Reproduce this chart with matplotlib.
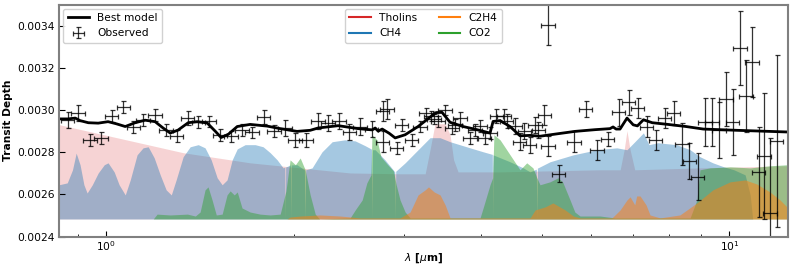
import numpy as np
import matplotlib
matplotlib.use("Agg")
import matplotlib.pyplot as plt
from matplotlib.lines import Line2D
from matplotlib.ticker import MultipleLocator, FormatStrFormatter

# ---------------- data (wavelength in micron, depth in ppm) ----------------
base_ppm = 2484

tholins_wl = [0.840, 1.329, 1.702, 2.048, 2.463, 2.962, 3.25, 3.309, 3.37, 3.50, 3.563, 3.61, 3.67,
              4.286, 6.2, 6.68, 6.78, 6.85, 6.93, 7.05, 8.97, 12.42]
tholins_ppm = [2931, 2798, 2750, 2726, 2702, 2698, 2698, 2812, 2935, 2935, 2883, 2764, 2707,
               2707, 2717, 2717, 2812, 2902, 2812, 2717, 2726, 2736]

ch4_wl = [0.840, 0.866, 0.883, 0.895, 0.908, 0.921, 0.932, 0.950, 0.971, 0.993, 1.007, 1.030, 1.049,
          1.073, 1.093, 1.121, 1.146, 1.168, 1.194, 1.221, 1.248, 1.272, 1.295, 1.329, 1.364, 1.405,
          1.441, 1.474, 1.507, 1.535, 1.563, 1.593, 1.623, 1.671, 1.734, 1.786, 1.833, 1.881, 1.923,
          1.935, 1.938, 1.941, 1.975, 1.978, 1.981, 2.024, 2.080, 2.085, 2.090, 2.140, 2.220, 2.305,
          2.417, 2.509, 2.604, 2.665, 2.670, 2.675, 2.701, 2.802, 2.905, 2.910, 2.915, 3.018, 3.166,
          3.309, 3.434, 3.563, 3.836, 4.03, 4.165, 4.17, 4.175, 4.447, 4.67, 4.788, 4.90, 4.91, 4.92,
          4.968, 5.155, 5.62, 6.13, 6.6, 6.85, 7.1, 7.28, 7.43, 7.68, 8.23, 8.65, 8.97, 9.41, 9.8,
          10.17, 10.6, 10.8, 10.9, 12.42]
ch4_ppm = [2646, 2655, 2717, 2796, 2741, 2646, 2607, 2646, 2702, 2741, 2750, 2707, 2646,
           2598, 2669, 2788, 2821, 2826, 2774, 2693, 2622, 2598, 2669, 2779, 2826, 2836,
           2821, 2764, 2679, 2646, 2669, 2764, 2816, 2836, 2836, 2826, 2798, 2764, 2726,
           2730, 2484, 2730, 2740, 2484, 2740, 2741, 2717, 2484, 2717, 2726, 2802, 2850,
           2859, 2854, 2831, 2815, 2484, 2812, 2812, 2764, 2707, 2484, 2710, 2750, 2812,
           2869, 2869, 2850, 2821, 2802, 2790, 2484, 2788, 2755, 2726, 2707, 2720, 2484, 2725,
           2731, 2755, 2788, 2812, 2821, 2812, 2859, 2892, 2836, 2845, 2836, 2812, 2779, 2750, 2731,
           2717, 2693, 2598, 2484, 2484]

c2h4_wl = [0.840, 1.95, 1.973, 2.048, 2.205, 2.374, 2.556, 2.962, 3.074, 3.166, 3.25, 3.29, 3.36,
           3.434, 3.50, 3.563, 4.788, 4.88, 5.06, 5.21, 5.45, 5.62, 5.76, 6.48, 6.68, 6.85, 6.93,
           7.05, 7.1, 7.19, 7.35, 7.46, 7.74, 8.33, 8.87, 9.41, 10.03, 10.6, 11.06, 11.62, 12.06, 12.42]
c2h4_ppm = [2484, 2484, 2493, 2498, 2503, 2498, 2489, 2489, 2517, 2598, 2622, 2636, 2612,
            2598, 2550, 2489, 2489, 2527, 2541, 2560, 2527, 2498, 2489, 2489, 2527, 2574, 2589,
            2551, 2593, 2593, 2551, 2503, 2489, 2503, 2560, 2622, 2660, 2669, 2650, 2612, 2574, 2536]

co2_wl = [0.840, 1.19, 1.207, 1.267, 1.35, 1.39, 1.415, 1.441, 1.457, 1.479, 1.502, 1.535, 1.563,
          1.581, 1.605, 1.623, 1.652, 1.702, 1.766, 1.833, 1.902, 1.943, 1.973, 2.012, 2.048, 2.086,
          2.125, 2.165, 2.20, 2.463, 2.51, 2.575, 2.62, 2.66, 2.67, 2.72, 2.76, 2.83, 2.89, 2.92,
          2.962, 3.018, 3.074, 3.981, 4.04, 4.13, 4.17, 4.19, 4.286, 4.447, 4.614, 4.73, 4.84, 4.91,
          4.968, 5.155, 5.31, 5.40, 5.551, 5.65, 5.76, 6.2, 6.55, 8.65, 8.87, 8.97, 9.31, 10.03,
          10.8, 11.62, 12.42]
co2_ppm = [2484, 2484, 2507, 2503, 2507, 2498, 2517, 2622, 2636, 2574, 2503, 2507, 2598,
           2617, 2598, 2612, 2536, 2517, 2507, 2503, 2507, 2617, 2764, 2741, 2773, 2717,
           2598, 2507, 2484, 2489, 2527, 2574, 2655, 2693, 2883, 2859, 2779, 2741, 2712, 2646,
           2574, 2517, 2489, 2489, 2551, 2646, 2679, 2883, 2859, 2788, 2717, 2750, 2726, 2679,
           2646, 2660, 2679, 2660, 2574, 2517, 2498, 2498, 2489, 2489, 2574, 2717, 2726, 2731,
           2726, 2736, 2741]

model_wl = [0.840, 0.869, 0.892, 0.908, 0.936, 0.971, 1.007, 1.038, 1.073, 1.113, 1.155, 1.198, 1.234,
            1.267, 1.304, 1.354, 1.400, 1.452, 1.496, 1.529, 1.570, 1.623, 1.702, 1.813, 1.902, 2.024,
            2.125, 2.188, 2.357, 2.537, 2.672, 2.702, 2.732, 2.773, 2.845, 2.909, 3.018, 3.166, 3.321,
            3.383, 3.459, 3.563, 3.739, 3.937, 4.130, 4.177, 4.286, 4.447, 4.614, 4.788, 4.968, 5.252,
            5.655, 6.084, 6.434, 6.507, 6.580, 6.677, 6.852, 7.010, 7.12, 7.28, 7.52, 7.97, 8.52, 9.08,
            10.29, 12.42]
model_ppm = [2958, 2958, 2962, 2950, 2940, 2938, 2945, 2935, 2922, 2940, 2952, 2945, 2915,
             2891, 2905, 2940, 2945, 2939, 2900, 2870, 2885, 2922, 2932, 2924, 2912, 2899,
             2904, 2915, 2926, 2912, 2906, 2915, 2900, 2910, 2890, 2868, 2883, 2922, 2970,
             2988, 2989, 2942, 2922, 2907, 2891, 2946, 2950, 2922, 2878, 2880, 2876, 2886,
             2899, 2907, 2912, 2920, 2910, 2910, 2962, 2930, 2925, 2954, 2940, 2932, 2922, 2910,
             2904, 2896]

obs_wl = [0.867, 0.902, 0.943, 0.981, 1.021, 1.066, 1.106, 1.145, 1.199, 1.248, 1.298, 1.351, 1.406,
          1.464, 1.524, 1.587, 1.651, 1.713, 1.789, 1.860, 1.937, 2.009, 2.094, 2.187, 2.269, 2.366,
          2.457, 2.556, 2.668, 2.777, 2.777, 2.822, 2.926, 2.980, 3.093, 3.189, 3.26, 3.32, 3.36,
          3.41, 3.50, 3.59, 3.63, 3.70, 3.84, 3.91, 3.98, 4.05, 4.13, 4.23, 4.35, 4.39, 4.53, 4.61,
          4.69, 4.78, 4.88, 4.94, 5.05, 5.12, 5.12, 5.32, 5.63, 5.88, 6.13, 6.38, 6.64, 6.89, 7.13,
          7.37, 7.62, 7.87, 8.14, 8.40, 8.63, 8.89, 9.14, 9.39, 9.62, 9.88, 10.12, 10.40, 10.63,
          10.88, 11.14, 11.38, 11.62, 11.91]
obs_ppm = [2951, 2986, 2859, 2867, 2970, 3013, 2918, 2954, 2978, 2907, 2878, 2962, 2942,
           2946, 2883, 2875, 2907, 2894, 2965, 2899, 2915, 2859, 2859, 2946, 2939, 2946,
           2894, 2922, 2910, 2996, 2851, 3005, 2820, 2931, 2859, 2922, 2986, 2970, 2958,
           2946, 2999, 2915, 2930, 2962, 2867, 2907, 2926, 2867, 2891, 2970, 2970, 2950, 2926, 2851,
           2899, 2836, 2931, 2907, 2978, 2831, 3405, 2698, 2851, 3005, 2812, 2862, 2989, 3036, 3010,
           2922, 2859, 2962, 2986, 2839, 2760, 2685, 2942, 2942, 2904, 3054, 2942, 3295, 3068,
           3228, 2706, 2783, 2511, 2855]
obs_err = [38, 38, 28, 28, 28, 28, 28, 28, 28, 28, 28, 33, 28,
           28, 28, 28, 28, 28, 33, 28, 38, 33, 33, 38, 38, 38,
           38, 38, 38, 48, 48, 48, 28, 28, 28, 28, 24, 24, 24,
           24, 24, 28, 28, 28, 28, 28, 28, 28, 28, 33, 33, 33, 38, 38,
           38, 38, 38, 38, 48, 48, 97, 40, 48, 38, 48, 33, 65, 60, 48,
           48, 48, 48, 57, 100, 85, 110, 114, 114, 133, 128, 157, 175, 171,
           166, 214, 300, 356, 408]
bin_half_frac = 0.025  # half bin width relative to wavelength

# ---------------- plotting ----------------
FS = 7.7
fig = plt.figure(figsize=(7.93, 2.7), dpi=100)
ax = fig.add_axes([0.0744, 0.1233, 0.9193, 0.8600])

ppm = 1e-6
base = base_ppm * ppm
species = [
    ("Tholins", tholins_wl, tholins_ppm, "tab:red", 0.2),
    ("CH4", ch4_wl, ch4_ppm, "tab:blue", 0.4),
    ("CO2", co2_wl, co2_ppm, "tab:green", 0.45),
    ("C2H4", c2h4_wl, c2h4_ppm, "tab:orange", 0.5),
]
for name, wl, vals, col, a in species:
    ax.fill_between(np.array(wl), base, np.array(vals) * ppm, color=col, alpha=a, lw=0)

mline, = ax.plot(np.array(model_wl), np.array(model_ppm) * ppm, color="black", lw=2, label="Best model")

ow = np.array(obs_wl)
xerr = [ow * bin_half_frac, ow * bin_half_frac]
eb = ax.errorbar(ow, np.array(obs_ppm) * ppm, yerr=np.array(obs_err) * ppm, xerr=xerr,
                 fmt="none", ecolor="black", elinewidth=0.9, capsize=1.8, capthick=0.9,
                 alpha=0.8, label="Observed")

ax.set_xscale("log")
ax.set_xlim(0.84, 12.42)
ax.set_ylim(0.0024, 0.0035)
ax.yaxis.set_major_locator(MultipleLocator(0.0002))
ax.yaxis.set_major_formatter(FormatStrFormatter("%.4f"))
ax.tick_params(which="both", direction="in", labelsize=FS)
ax.tick_params(which="major", length=4, pad=3)
ax.tick_params(axis="x", which="major", pad=2)
ax.tick_params(which="minor", length=2)
for s in ax.spines.values():
    s.set_color("#808080")
    s.set_linewidth(1.5)

ax.set_ylabel("Transit Depth", fontsize=FS, fontweight="bold", labelpad=3)
ax.set_xlabel(r"$\lambda$ [$\mu$m]", fontsize=FS, fontweight="bold", labelpad=-1)

leg1 = ax.legend(handles=[mline, eb], loc="upper left", fontsize=FS, framealpha=0.9,
                 borderaxespad=0.4, handlelength=2.0)
ax.add_artist(leg1)
handles2 = [Line2D([], [], color="tab:red", lw=1.5, label="Tholins"),
            Line2D([], [], color="tab:blue", lw=1.5, label="CH4"),
            Line2D([], [], color="tab:orange", lw=1.5, label="C2H4"),
            Line2D([], [], color="tab:green", lw=1.5, label="CO2")]
ax.legend(handles=handles2, loc="upper center", ncol=2, fontsize=FS, framealpha=0.9,
          borderaxespad=0.4, columnspacing=2.0)

fig.savefig("out.png", dpi=100)
